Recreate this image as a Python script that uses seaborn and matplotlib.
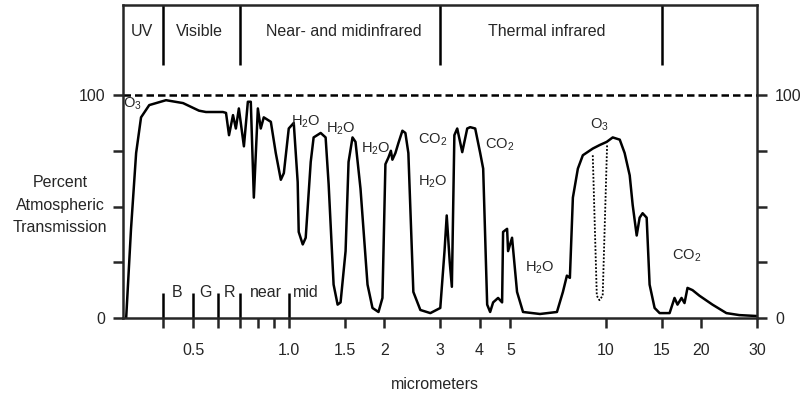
import matplotlib
matplotlib.use("Agg")
import matplotlib.pyplot as plt
import seaborn as sns
import pandas as pd

sns.set_style("ticks")
plt.rcParams['font.family'] = ['Liberation Sans', 'DejaVu Sans']
plt.rcParams['mathtext.fontset'] = 'custom'
plt.rcParams['mathtext.rm'] = 'Liberation Sans'
plt.rcParams['mathtext.default'] = 'regular'

# transmission curve (micrometers, percent)
wavelength = [0.307, 0.318, 0.330, 0.342, 0.363, 0.410, 0.464, 0.521, 0.548, 0.620,
              0.634, 0.648, 0.667, 0.681, 0.696, 0.722, 0.743, 0.759, 0.776, 0.799,
              0.816, 0.834, 0.878, 0.910, 0.944, 0.965, 1.0, 1.037, 1.067, 1.075,
              1.107, 1.131, 1.173, 1.198, 1.261, 1.307, 1.336, 1.385, 1.426, 1.457,
              1.511, 1.544, 1.589, 1.624, 1.684, 1.772, 1.837, 1.919, 1.975, 2.018,
              2.063, 2.10, 2.123, 2.170, 2.218, 2.283, 2.333, 2.384, 2.472, 2.601,
              2.797, 3.006, 3.10, 3.15, 3.22, 3.27, 3.33, 3.40, 3.526, 3.656,
              3.736, 3.874, 4.017, 4.105, 4.226, 4.318, 4.413, 4.575, 4.710, 4.744,
              4.884, 4.919, 5.063, 5.250, 5.483, 6.201, 7.015, 7.326, 7.541, 7.706,
              7.876, 8.166, 8.467, 9.101, 9.575, 10.07, 10.52, 11.07, 11.47, 11.90,
              12.16, 12.52, 12.79, 13.07, 13.46, 13.75, 14.26, 14.79, 15.90, 16.48,
              16.84, 17.34, 17.72, 18.11, 18.78, 19.75, 21.71, 24.02, 26.39, 29.85]
transmission = [0, 40, 74, 90, 95.5, 97.7, 96.4, 93, 92.4, 92.4,
                92, 82, 91, 85, 94, 77, 97, 97, 54, 94,
                85, 90, 88, 74, 62, 65, 85, 87.5, 61, 38.6,
                33, 36, 70, 81, 83, 81, 60, 15, 6, 7,
                30, 70, 81, 79, 58, 15, 4.5, 2.7, 9, 69,
                72, 75, 71, 74, 78.5, 84, 83, 74, 11.7, 3.6,
                2.2, 4.5, 30, 46, 25, 14, 82, 85, 74.4, 85,
                85.6, 85, 74, 67, 6, 2.7, 7, 9, 7, 38.6,
                40, 30, 36, 11.7, 2.7, 1.8, 2.7, 11.7, 19, 18,
                54, 67, 73, 76, 77.6, 79, 81, 80, 74, 64,
                50.7, 37, 45, 47, 45, 15, 4.5, 2.2, 2.2, 9,
                6, 9, 6.7, 13.5, 12.5, 10, 6, 2.2, 1.3, 0.9]

# ozone absorption band (dotted)
o3_wavelength = [9.10, 9.37, 9.55, 9.78, 10.1]
o3_transmission = [73, 10, 8, 10, 78]

regions = ["UV", "Visible", "Near- and midinfrared", "Thermal infrared"]
region_centers = [0.345, 0.521, 1.49, 6.5]
region_bounds = [0.4, 0.7, 3, 15]

band_ticks = [0.4, 0.5, 0.6, 0.7, 1.0]
band_labels = ["B", "G", "R", "near", "mid"]
band_centers = [0.444, 0.548, 0.652, 0.847, 1.131]

gas_labels = ["O$_3$", "H$_2$O", "H$_2$O", "H$_2$O", "CO$_2$", "H$_2$O", "CO$_2$",
              "H$_2$O", "O$_3$", "CO$_2$"]
gas_x = [0.321, 1.131, 1.457, 1.876, 2.837, 2.837, 4.62, 6.2, 9.575, 17.98]
gas_y = [96, 88, 85, 76, 80, 61, 77.6, 22.4, 86.5, 28]

xticks = [0.4, 0.5, 0.6, 0.7, 0.8, 0.9, 1.0, 1.5, 2, 3, 4, 5, 10, 15, 20, 30]
xtick_labels = ["", "0.5", "", "", "", "", "1.0", "1.5", "2", "3", "4", "5",
                "10", "15", "20", "30"]
yticks = [0, 25, 50, 75, 100]
ytick_labels = ["0", "", "", "", "100"]

df = pd.DataFrame({"wl": wavelength, "t": transmission})
o3 = pd.DataFrame({"wl": o3_wavelength, "t": o3_transmission})

fs = 11.5
lw = 1.8
fig = plt.figure(figsize=(8.02, 4.0), dpi=100)
ax = fig.add_axes([123 / 802, 0.205, 634 / 802, 0.7825])

sns.lineplot(data=df, x="wl", y="t", sort=False, estimator=None, color="black",
             linewidth=lw, ax=ax)
sns.lineplot(data=o3, x="wl", y="t", sort=False, estimator=None, color="black",
             linewidth=1.3, linestyle=(0, (1, 1)), ax=ax)
ax.axhline(100, color="black", linewidth=lw, linestyle=(0, (3, 1.6)))

ax.set_xscale("log")
ax.set_xlim(0.3, 30)
ax.set_ylim(0, 140.4)

# region dividers and names along the top
ax.vlines(region_bounds, 113.5, 140.4, color="black", linewidth=lw)
for name, xc in zip(regions, region_centers):
    ax.text(xc, 128.5, name, ha="center", va="center", fontsize=fs)

# colour band separators
ax.vlines(band_ticks, 0, 11.2, color="black", linewidth=lw)
for name, xc in zip(band_labels, band_centers):
    ax.text(xc, 11.5, name, ha="center", va="center", fontsize=fs)

for name, xg, yg in zip(gas_labels, gas_x, gas_y):
    ax.text(xg, yg, name, ha="center", va="center", fontsize=10.5)

ax.xaxis.set_minor_locator(matplotlib.ticker.NullLocator())
ax.set_xticks(xticks)
ax.set_xticklabels(xtick_labels)
ax.set_yticks(yticks)
ax.set_yticklabels(ytick_labels)
ax.tick_params(axis="both", direction="out", length=7, width=lw, labelsize=fs)
ax.tick_params(axis="x", pad=11)
ax.tick_params(axis="y", right=True, labelright=True, pad=6)

for s in ax.spines.values():
    s.set_linewidth(lw)

ax.set_xlabel("micrometers", fontsize=fs)
ax.xaxis.set_label_coords(0.492, -0.19)
ax.set_ylabel("Percent\nAtmospheric\nTransmission", fontsize=fs, rotation=0,
              ha="center", va="center", linespacing=1.6)
ax.yaxis.set_label_coords(-0.0994, 0.361)

fig.savefig("out.png", dpi=100)
